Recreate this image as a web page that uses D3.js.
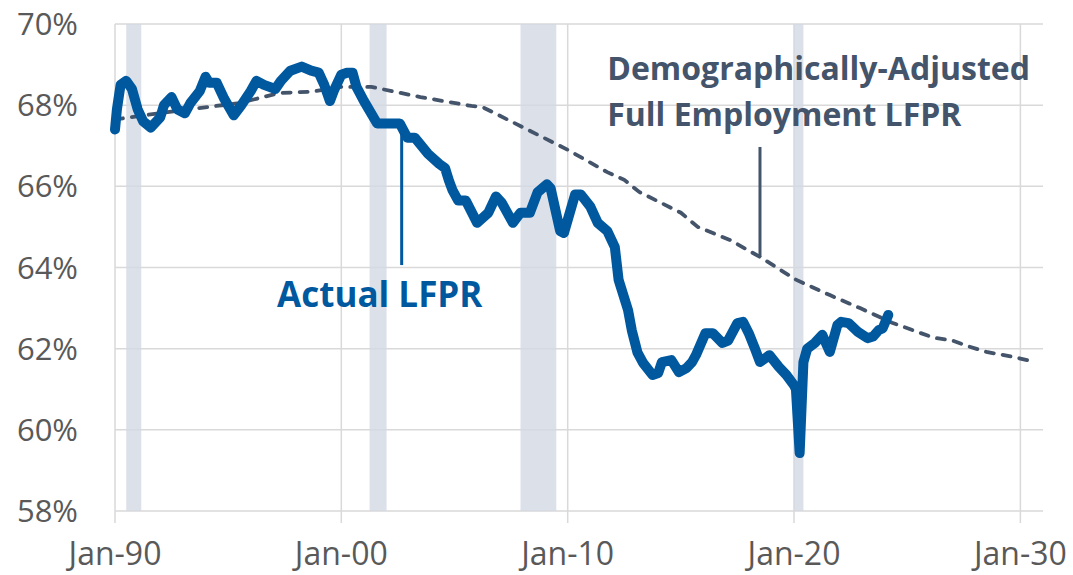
<!DOCTYPE html>
<html>
<head>
<meta charset="utf-8">
<script src="https://cdn.jsdelivr.net/npm/d3@7"></script>
<style>
  body { margin: 0; background: #fff; }
  text { font-family: "Open Sans", sans-serif; }
</style>
</head>
<body>
<svg id="drawing_region"></svg>
<script>
// actual LFPR (month, percent)
const actual_months = [
  "1990-01","1990-02","1990-04","1990-07","1990-10","1991-01","1991-04","1991-08",
  "1992-01","1992-03","1992-07","1992-10","1993-02","1993-05","1993-10","1994-01",
  "1994-03","1994-07","1994-11","1995-04","1995-08","1996-01","1996-04","1996-08",
  "1997-02","1997-05","1997-10","1998-04","1998-09","1999-01","1999-04","1999-07",
  "1999-09","2000-01","2000-04","2000-07","2000-09","2001-01","2001-08","2002-08",
  "2002-12","2003-04","2003-11","2004-05","2004-08","2004-10","2004-12","2005-03",
  "2005-07","2006-01","2006-07","2006-11","2007-02","2007-08","2007-12","2008-05",
  "2008-09","2009-02","2009-04","2009-09","2009-11","2010-05","2010-08","2011-01",
  "2011-05","2011-10","2012-02","2012-04","2012-09","2012-11","2013-02","2013-05",
  "2013-10","2014-01","2014-03","2014-08","2014-12","2015-04","2015-07","2015-09",
  "2016-02","2016-06","2016-11","2017-02","2017-07","2017-10","2018-01","2018-04",
  "2018-07","2018-12","2019-05","2019-09","2020-01","2020-02","2020-04","2020-06",
  "2020-08","2020-12","2021-04","2021-08","2021-12","2022-02","2022-06","2022-11",
  "2023-04","2023-07","2023-10","2023-12","2024-03"
];
const actual_values = [
  67.4, 67.9, 68.5, 68.6, 68.4, 67.9, 67.6, 67.45,
  67.7, 68.0, 68.2, 67.9, 67.8, 68.05, 68.35, 68.7,
  68.55, 68.55, 68.15, 67.75, 68.0, 68.35, 68.6, 68.5,
  68.4, 68.6, 68.85, 68.95, 68.85, 68.8, 68.5, 68.1,
  68.35, 68.75, 68.8, 68.8, 68.45, 68.1, 67.55, 67.55,
  67.2, 67.2, 66.8, 66.55, 66.45, 66.15, 65.9, 65.65,
  65.65, 65.1, 65.35, 65.75, 65.6, 65.1, 65.35, 65.35,
  65.85, 66.05, 65.95, 64.9, 64.85, 65.8, 65.8, 65.5,
  65.1, 64.9, 64.5, 63.7, 62.95, 62.45, 61.9, 61.65,
  61.35, 61.4, 61.67, 61.72, 61.42, 61.52, 61.67, 61.84,
  62.38, 62.38, 62.14, 62.2, 62.63, 62.66, 62.38, 62.04,
  61.67, 61.84, 61.55, 61.35, 61.1, 61.0, 59.43, 61.67,
  62.0, 62.14, 62.34, 61.92, 62.58, 62.66, 62.63, 62.41,
  62.26, 62.3, 62.46, 62.5, 62.83
];

// demographically-adjusted full employment LFPR (dashed)
const trend_months = [
  "1990-01","1993-01","1995-07","1997-04","1998-09","2000-01","2001-05","2003-07",
  "2005-10","2006-04","2008-01","2010-01","2011-10","2012-07","2013-03","2015-01",
  "2015-10","2017-03","2018-07","2020-02","2021-08","2022-12","2024-05","2026-03",
  "2027-01","2027-10","2028-07","2029-09","2030-09"
];
const trend_values = [
  67.65, 67.88, 68.05, 68.3, 68.33, 68.45, 68.45, 68.2,
  67.98, 67.95, 67.46, 66.9, 66.35, 66.16, 65.86, 65.35,
  65.0, 64.68, 64.26, 63.7, 63.32, 63.0, 62.64, 62.27,
  62.2, 62.05, 61.92, 61.8, 61.67
];

// recessions (shaded)
const recession_starts = ["1990-07","2001-04","2007-12","2020-01"];
const recession_ends   = ["1991-03","2002-01","2009-07","2020-06"];

// axes
const y_ticks = [58, 60, 62, 64, 66, 68, 70];
const x_ticks = ["1990-01","2000-01","2010-01","2020-01","2030-01"];
const x_tick_labels = ["Jan-90","Jan-00","Jan-10","Jan-20","Jan-30"];

const parse = d3.timeParse("%Y-%m");

const config = {
    parent: '#drawing_region',
    width: 1073,
    height: 575,
    margin: {top:24, right:30, bottom:64, left:115}
};

const svg = d3.select(config.parent)
    .attr('width', config.width)
    .attr('height', config.height);

const inner_width = config.width - config.margin.left - config.margin.right;
const inner_height = config.height - config.margin.top - config.margin.bottom;

const chart = svg.append('g')
    .attr('transform', `translate(${config.margin.left}, ${config.margin.top})`);

const xscale = d3.scaleTime()
    .domain([parse("1990-01"), parse("2031-01")])
    .range([0, inner_width]);

const yscale = d3.scaleLinear()
    .domain([58, 70])
    .range([inner_height, 0]);

// horizontal gridlines
chart.append('g')
    .selectAll('line')
    .data(y_ticks)
    .join('line')
    .attr('x1', 0)
    .attr('x2', inner_width)
    .attr('y1', d => yscale(d))
    .attr('y2', d => yscale(d))
    .attr('stroke', '#d9d9d9')
    .attr('stroke-width', 1.5);

// vertical gridlines + tick marks
chart.append('g')
    .selectAll('line')
    .data(x_ticks)
    .join('line')
    .attr('x1', d => xscale(parse(d)))
    .attr('x2', d => xscale(parse(d)))
    .attr('y1', 0)
    .attr('y2', inner_height + 12)
    .attr('stroke', '#d9d9d9')
    .attr('stroke-width', 1.5);

// recession bars
chart.append('g')
    .selectAll('rect')
    .data(recession_starts.map((s, i) => ({start: parse(s), end: parse(recession_ends[i])})))
    .join('rect')
    .attr('x', d => xscale(d.start))
    .attr('width', d => xscale(d.end) - xscale(d.start))
    .attr('y', 0)
    .attr('height', inner_height)
    .attr('fill', '#d3d9e3')
    .attr('opacity', 0.8);

// tick labels
chart.append('g')
    .selectAll('text')
    .data(y_ticks)
    .join('text')
    .attr('x', -37)
    .attr('y', d => yscale(d))
    .attr('dy', '0.36em')
    .attr('text-anchor', 'end')
    .attr('font-size', 31)
    .attr('fill', '#595959')
    .text(d => d + '%');

chart.append('g')
    .selectAll('text')
    .data(x_ticks)
    .join('text')
    .attr('x', d => xscale(parse(d)))
    .attr('y', inner_height + 54)
    .attr('text-anchor', 'middle')
    .attr('font-size', 32)
    .attr('fill', '#595959')
    .text((d, i) => x_tick_labels[i]);

// lines
const actual = actual_months.map((m, i) => ({date: parse(m), value: actual_values[i]}));
const trend = trend_months.map((m, i) => ({date: parse(m), value: trend_values[i]}));

const line = d3.line()
    .x(d => xscale(d.date))
    .y(d => yscale(d.value));

chart.append('path')
    .datum(trend)
    .attr('d', line)
    .attr('fill', 'none')
    .attr('stroke', '#44546a')
    .attr('stroke-width', 3.8)
    .attr('stroke-dasharray', '8,9')
    .attr('stroke-linecap', 'round');

chart.append('path')
    .datum(actual)
    .attr('d', line)
    .attr('fill', 'none')
    .attr('stroke', '#00589f')
    .attr('stroke-width', 10)
    .attr('stroke-linejoin', 'round')
    .attr('stroke-linecap', 'round');

// annotations
chart.append('line')
    .attr('x1', xscale(parse("2002-09")))
    .attr('x2', xscale(parse("2002-09")))
    .attr('y1', yscale(67.3))
    .attr('y2', yscale(64.06))
    .attr('stroke', '#00589f')
    .attr('stroke-width', 3);

chart.append('text')
    .attr('x', xscale(parse("1997-03")))
    .attr('y', yscale(63.03))
    .attr('font-size', 35)
    .attr('font-weight', 'bold')
    .attr('fill', '#00589f')
    .text('Actual LFPR');

chart.append('line')
    .attr('x1', xscale(parse("2018-07")))
    .attr('x2', xscale(parse("2018-07")))
    .attr('y1', yscale(66.97))
    .attr('y2', yscale(64.26))
    .attr('stroke', '#44546a')
    .attr('stroke-width', 3);

const note = chart.append('text')
    .attr('font-size', 32)
    .attr('font-weight', 'bold')
    .attr('fill', '#44546a');

note.append('tspan')
    .attr('x', xscale(parse("2011-10")))
    .attr('y', yscale(68.62))
    .text('Demographically-Adjusted');

note.append('tspan')
    .attr('x', xscale(parse("2011-10")))
    .attr('y', yscale(67.49))
    .text('Full Employment LFPR');
</script>
</body>
</html>
